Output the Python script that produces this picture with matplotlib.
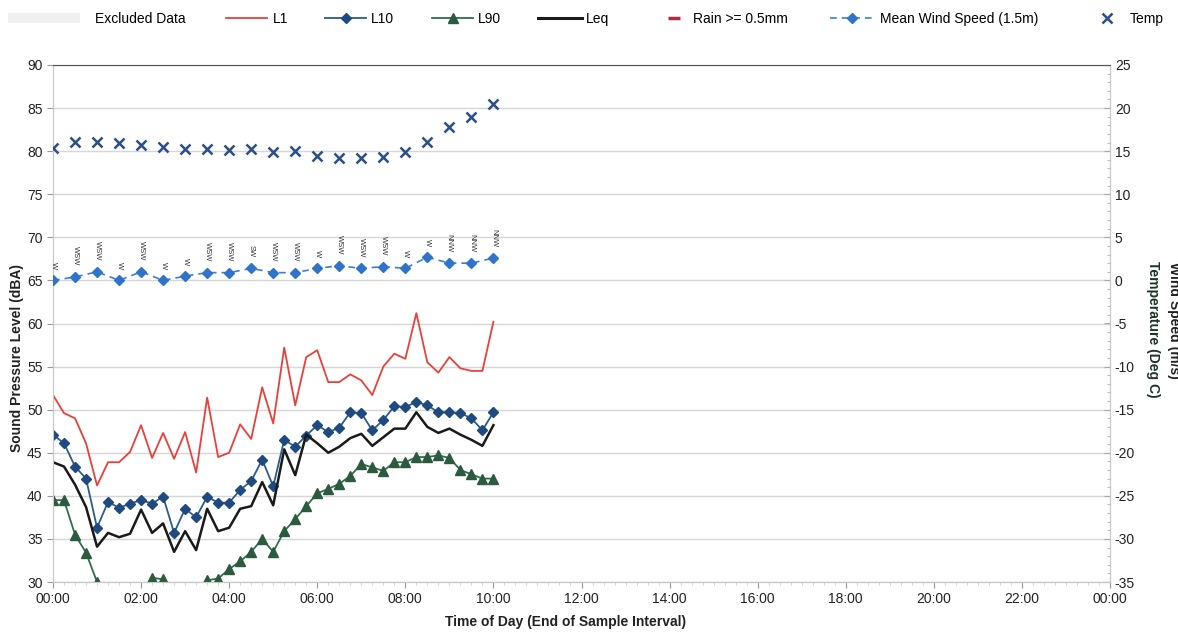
import numpy as np
import matplotlib.pyplot as plt
from matplotlib.lines import Line2D
from matplotlib.patches import Patch

plt.rcParams['font.family'] = ['Liberation Sans', 'DejaVu Sans']
plt.rcParams['axes.unicode_minus'] = False

# 15 minute noise intervals, 00:00 - 10:00 (hours)
noise_hours = np.arange(0, 10.01, 0.25)
L1 = [51.7, 49.6, 49.0, 46.1, 41.2, 43.9, 43.9, 45.1, 48.2, 44.4, 47.3, 44.3, 47.4, 42.7, 51.4, 44.5,
      45.0, 48.3, 46.6, 52.6, 48.4, 57.2, 50.5, 56.1, 56.9, 53.2, 53.2, 54.1, 53.4, 51.7, 55.0, 56.5,
      55.9, 61.2, 55.5, 54.3, 56.1, 54.8, 54.5, 54.5, 60.2]
L10 = [47.1, 46.1, 43.4, 42.0, 36.3, 39.3, 38.6, 39.1, 39.5, 39.1, 39.9, 35.7, 38.5, 37.5, 39.9, 39.2,
       39.2, 40.7, 41.7, 44.2, 41.1, 46.5, 45.7, 47.0, 48.2, 47.4, 47.9, 49.7, 49.6, 47.6, 48.8, 50.4,
       50.3, 50.9, 50.5, 49.7, 49.7, 49.6, 49.0, 47.6, 49.7]
L90 = [39.5, 39.5, 35.5, 33.4, 30.0, np.nan, np.nan, np.nan, np.nan, 30.5, 30.3, np.nan, np.nan, np.nan,
       30.2, 30.4, 31.5, 32.4, 33.5, 35.0, 33.5, 35.9, 37.3, 38.8, 40.3, 40.8, 41.4, 42.3, 43.7, 43.3,
       42.9, 43.9, 43.9, 44.5, 44.5, 44.7, 44.4, 43.0, 42.5, 42.0, 42.0]
Leq = [43.9, 43.4, 41.3, 38.7, 34.1, 35.7, 35.2, 35.6, 38.4, 35.7, 36.8, 33.5, 35.9, 33.7, 38.5, 35.9,
       36.3, 38.5, 38.8, 41.6, 38.9, 45.4, 42.4, 47.1, 46.1, 45.0, 45.7, 46.7, 47.2, 45.8, 46.8, 47.8,
       47.8, 49.7, 48.0, 47.3, 47.8, 47.1, 46.5, 45.8, 48.2]

# 30 minute weather intervals
weather_hours = np.arange(0, 10.01, 0.5)
temp = [15.4, 16.1, 16.1, 15.9, 15.7, 15.5, 15.2, 15.2, 15.1, 15.2, 14.9, 15.0, 14.4, 14.2, 14.2, 14.3,
        14.9, 16.1, 17.8, 19.0, 20.5]
wind = [0.0, 0.4, 1.0, 0.0, 1.0, 0.0, 0.5, 0.9, 0.9, 1.4, 0.9, 0.9, 1.4, 1.7, 1.4, 1.6, 1.4, 2.7, 2.0,
        2.0, 2.6]
wind_dir = ['W', 'WSW', 'WSW', 'W', 'WSW', 'W', 'W', 'WSW', 'WSW', 'SW', 'WSW', 'WSW', 'W', 'WSW',
            'WSW', 'WSW', 'W', 'W', 'NNW', 'NNW', 'NNW']

hour_ticks = list(range(0, 25, 2))
hour_labels = ['%02d:00' % (h % 24) for h in hour_ticks]

W, H = 1178, 632
fig = plt.figure(figsize=(W / 100, H / 100), dpi=100)
ax = fig.add_axes([53 / W, 50 / H, (1110 - 53) / W, (582 - 65) / H])
ax2 = ax.twinx()

ax.set_xlim(0, 24)
ax.set_ylim(30, 90)
ax2.set_ylim(-35, 25)
ax.set_yticks(range(30, 91, 5))
ax2.set_yticks(range(-35, 26, 5))
ax2.set_yticks(range(-35, 26, 1), minor=True)
ax.set_xticks(hour_ticks)
ax.set_xticklabels(hour_labels)
ax.set_xticks(np.arange(0, 24.01, 0.25), minor=True)

ax.yaxis.grid(True, color='#d6d6d6', lw=1)
ax.set_axisbelow(True)
for a in (ax, ax2):
    for s in a.spines.values():
        s.set_color('#c8c8c8')
    a.tick_params(labelsize=10, colors='#222222', length=4, width=0.8)
    a.tick_params(which='minor', length=2, color='#cccccc')
ax2.spines['top'].set_color('#555555')
ax.tick_params(axis='both', which='major', color='#999999')
ax2.tick_params(axis='y', which='both', direction='in', color='#aaaaaa')

# noise lines
ax.plot(noise_hours, L1, color='#e8403a', lw=1.3, zorder=3)
ax.plot(noise_hours, L10, color='#2b5d8c', lw=1.3, marker='D', ms=5, mfc='#1f4a80', mec='#1f4a80', zorder=4)
ax.plot(noise_hours, L90, color='#2f6e4a', lw=1.3, marker='^', ms=6.5, mfc='#2b5a3e', mec='#2b5a3e', zorder=4)
ax.plot(noise_hours, Leq, color='#1a1a1a', lw=1.8, zorder=5)

# weather
ax2.plot(weather_hours, wind, color='#3a7fd5', lw=1.2, ls=(0, (4, 3)), marker='D', ms=5,
         mfc='#2f74c8', mec='#2f74c8', zorder=4)
ax2.plot(weather_hours, temp, ls='none', marker='x', ms=7, mew=1.8, color='#2b4f8a', zorder=4)
for h, w, d in zip(weather_hours, wind, wind_dir):
    ax2.annotate(d, (h, w), xytext=(0, 8), textcoords='offset points', rotation=270,
                 ha='center', va='bottom', fontsize=5.5, color='#333333')

# legend, one entry at a time to follow the spread-out layout
fs = 10
em = fs * 100 / 72.0  # px per font-size unit
entries = [
    (Patch(facecolor='#f0f0f0', edgecolor='none'), 'Excluded Data', 8, 80, 95),
    (Line2D([], [], color='#e8403a', lw=1.3), 'L1', 226, 267, 273),
    (Line2D([], [], color='#2b5d8c', lw=1.3, marker='D', ms=5, mfc='#1f4a80', mec='#1f4a80'), 'L10', 325, 366, 371),
    (Line2D([], [], color='#2f6e4a', lw=1.3, marker='^', ms=6.5, mfc='#2b5a3e', mec='#2b5a3e'), 'L90', 432, 473, 478),
    (Line2D([], [], color='#1a1a1a', lw=2.2), 'Leq', 538, 582, 586),
    (Line2D([], [], ls='none', marker='_', ms=8, mew=2.5, color='#b02c3c'), 'Rain >= 0.5mm', 664, 684, 693),
    (Line2D([], [], color='#3a7fd5', lw=1.2, ls=(0, (4, 3)), marker='D', ms=5, mfc='#2f74c8', mec='#2f74c8'),
     'Mean Wind Speed (1.5m)', 830, 874, 880),
    (Line2D([], [], ls='none', marker='x', ms=7, mew=1.8, color='#2b4f8a'), 'Temp', 1097, 1117, 1130),
]
for handle, label, x0, x1, xt in entries:
    fig.legend([handle], [label], loc='center left', bbox_to_anchor=(x0 / W, 1 - 19 / H),
               frameon=False, fontsize=fs, handlelength=(x1 - x0) / em, handletextpad=(xt - x1) / em,
               borderpad=0, borderaxespad=0)

fig.text(17 / W, 1 - 358 / H, 'Sound Pressure Level (dBA)', rotation=90, ha='center', va='center',
         fontsize=10, fontweight='bold', color='#222222')
fig.text(566 / W, 1 - 622 / H, 'Time of Day (End of Sample Interval)', ha='center', va='center',
         fontsize=10, fontweight='bold', color='#222222')
fig.text(1153 / W, 1 - 329 / H, 'Temperature (Deg C)', rotation=270, ha='center', va='center',
         fontsize=10, fontweight='bold', color='#1d3526')
fig.text(1174 / W, 1 - 320 / H, 'Wind Speed (m/s)', rotation=270, ha='center', va='center',
         fontsize=10, fontweight='bold', color='#222222')

fig.savefig('out.png', dpi=100)
